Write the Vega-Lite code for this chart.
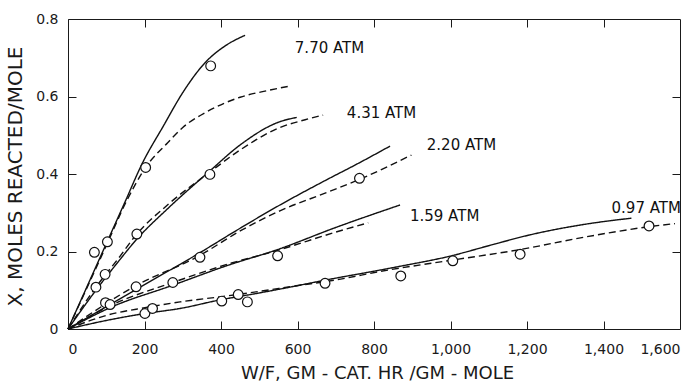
{
  "$schema": "https://vega.github.io/schema/vega-lite/v6.json",
  "width": 612,
  "height": 310,
  "autosize": {"type": "none"},
  "padding": {"left": 68, "top": 19, "right": 14, "bottom": 55},
  "background": "white",
  "config": {
    "view": {"stroke": "#1a1a1a", "strokeWidth": 1},
    "font": "DejaVu Sans",
    "axis": {
      "domain": false,
      "grid": false,
      "tickColor": "#1a1a1a",
      "tickWidth": 1,
      "labelColor": "#1a1a1a",
      "titleColor": "#1a1a1a",
      "labelFont": "DejaVu Sans",
      "titleFont": "DejaVu Sans",
      "labelFontSize": 14,
      "titleFontWeight": "normal"
    }
  },
  "datasets": {
    "curves": [
      {"p": "7.70", "style": "solid", "w": 0, "X": 0},
      {"p": "7.70", "style": "solid", "w": 50, "X": 0.11},
      {"p": "7.70", "style": "solid", "w": 100, "X": 0.22},
      {"p": "7.70", "style": "solid", "w": 150, "X": 0.33},
      {"p": "7.70", "style": "solid", "w": 193, "X": 0.425},
      {"p": "7.70", "style": "solid", "w": 250, "X": 0.525},
      {"p": "7.70", "style": "solid", "w": 300, "X": 0.61},
      {"p": "7.70", "style": "solid", "w": 361, "X": 0.69},
      {"p": "7.70", "style": "solid", "w": 410, "X": 0.73},
      {"p": "7.70", "style": "solid", "w": 463, "X": 0.758},
      {"p": "7.70", "style": "dashed", "w": 0, "X": 0},
      {"p": "7.70", "style": "dashed", "w": 100, "X": 0.215},
      {"p": "7.70", "style": "dashed", "w": 153, "X": 0.33},
      {"p": "7.70", "style": "dashed", "w": 205, "X": 0.42},
      {"p": "7.70", "style": "dashed", "w": 260, "X": 0.48},
      {"p": "7.70", "style": "dashed", "w": 300, "X": 0.52},
      {"p": "7.70", "style": "dashed", "w": 362, "X": 0.56},
      {"p": "7.70", "style": "dashed", "w": 450, "X": 0.598},
      {"p": "7.70", "style": "dashed", "w": 520, "X": 0.615},
      {"p": "7.70", "style": "dashed", "w": 580, "X": 0.627},
      {"p": "4.31", "style": "solid", "w": 0, "X": 0},
      {"p": "4.31", "style": "solid", "w": 73, "X": 0.1},
      {"p": "4.31", "style": "solid", "w": 130, "X": 0.172},
      {"p": "4.31", "style": "solid", "w": 180, "X": 0.232},
      {"p": "4.31", "style": "solid", "w": 260, "X": 0.31},
      {"p": "4.31", "style": "solid", "w": 371, "X": 0.408},
      {"p": "4.31", "style": "solid", "w": 450, "X": 0.475},
      {"p": "4.31", "style": "solid", "w": 554, "X": 0.535},
      {"p": "4.31", "style": "solid", "w": 598, "X": 0.546},
      {"p": "4.31", "style": "dashed", "w": 0, "X": 0},
      {"p": "4.31", "style": "dashed", "w": 73, "X": 0.108},
      {"p": "4.31", "style": "dashed", "w": 130, "X": 0.18},
      {"p": "4.31", "style": "dashed", "w": 180, "X": 0.245},
      {"p": "4.31", "style": "dashed", "w": 260, "X": 0.32},
      {"p": "4.31", "style": "dashed", "w": 371, "X": 0.405},
      {"p": "4.31", "style": "dashed", "w": 450, "X": 0.462},
      {"p": "4.31", "style": "dashed", "w": 554, "X": 0.52},
      {"p": "4.31", "style": "dashed", "w": 620, "X": 0.54},
      {"p": "4.31", "style": "dashed", "w": 667, "X": 0.552},
      {"p": "2.20", "style": "solid", "w": 0, "X": 0},
      {"p": "2.20", "style": "solid", "w": 178, "X": 0.102},
      {"p": "2.20", "style": "solid", "w": 345, "X": 0.197},
      {"p": "2.20", "style": "solid", "w": 450, "X": 0.26},
      {"p": "2.20", "style": "solid", "w": 554, "X": 0.32},
      {"p": "2.20", "style": "solid", "w": 676, "X": 0.385},
      {"p": "2.20", "style": "solid", "w": 760, "X": 0.428},
      {"p": "2.20", "style": "solid", "w": 842, "X": 0.472},
      {"p": "2.20", "style": "dashed", "w": 0, "X": 0},
      {"p": "2.20", "style": "dashed", "w": 178, "X": 0.112},
      {"p": "2.20", "style": "dashed", "w": 345, "X": 0.19},
      {"p": "2.20", "style": "dashed", "w": 450, "X": 0.253},
      {"p": "2.20", "style": "dashed", "w": 554, "X": 0.305},
      {"p": "2.20", "style": "dashed", "w": 676, "X": 0.352},
      {"p": "2.20", "style": "dashed", "w": 762, "X": 0.386},
      {"p": "2.20", "style": "dashed", "w": 898, "X": 0.449},
      {"p": "1.59", "style": "solid", "w": 0, "X": 0},
      {"p": "1.59", "style": "solid", "w": 110, "X": 0.055},
      {"p": "1.59", "style": "solid", "w": 274, "X": 0.113},
      {"p": "1.59", "style": "solid", "w": 420, "X": 0.165},
      {"p": "1.59", "style": "solid", "w": 548, "X": 0.205},
      {"p": "1.59", "style": "solid", "w": 700, "X": 0.262},
      {"p": "1.59", "style": "solid", "w": 868, "X": 0.32},
      {"p": "1.59", "style": "dashed", "w": 0, "X": 0},
      {"p": "1.59", "style": "dashed", "w": 110, "X": 0.06},
      {"p": "1.59", "style": "dashed", "w": 274, "X": 0.12},
      {"p": "1.59", "style": "dashed", "w": 420, "X": 0.168},
      {"p": "1.59", "style": "dashed", "w": 548, "X": 0.203},
      {"p": "1.59", "style": "dashed", "w": 700, "X": 0.25},
      {"p": "1.59", "style": "dashed", "w": 785, "X": 0.274},
      {"p": "0.97", "style": "solid", "w": 0, "X": 0},
      {"p": "0.97", "style": "solid", "w": 100, "X": 0.022},
      {"p": "0.97", "style": "solid", "w": 201, "X": 0.04},
      {"p": "0.97", "style": "solid", "w": 293, "X": 0.053},
      {"p": "0.97", "style": "solid", "w": 397, "X": 0.075},
      {"p": "0.97", "style": "solid", "w": 500, "X": 0.093},
      {"p": "0.97", "style": "solid", "w": 580, "X": 0.108},
      {"p": "0.97", "style": "solid", "w": 672, "X": 0.126},
      {"p": "0.97", "style": "solid", "w": 842, "X": 0.157},
      {"p": "0.97", "style": "solid", "w": 1007, "X": 0.19},
      {"p": "0.97", "style": "solid", "w": 1100, "X": 0.215},
      {"p": "0.97", "style": "solid", "w": 1208, "X": 0.243},
      {"p": "0.97", "style": "solid", "w": 1350, "X": 0.27},
      {"p": "0.97", "style": "solid", "w": 1473, "X": 0.286},
      {"p": "0.97", "style": "dashed", "w": 0, "X": 0},
      {"p": "0.97", "style": "dashed", "w": 100, "X": 0.035},
      {"p": "0.97", "style": "dashed", "w": 201, "X": 0.055},
      {"p": "0.97", "style": "dashed", "w": 293, "X": 0.07},
      {"p": "0.97", "style": "dashed", "w": 397, "X": 0.083},
      {"p": "0.97", "style": "dashed", "w": 500, "X": 0.097},
      {"p": "0.97", "style": "dashed", "w": 606, "X": 0.113},
      {"p": "0.97", "style": "dashed", "w": 672, "X": 0.122},
      {"p": "0.97", "style": "dashed", "w": 842, "X": 0.153},
      {"p": "0.97", "style": "dashed", "w": 1006, "X": 0.178},
      {"p": "0.97", "style": "dashed", "w": 1182, "X": 0.205},
      {"p": "0.97", "style": "dashed", "w": 1350, "X": 0.237},
      {"p": "0.97", "style": "dashed", "w": 1519, "X": 0.264},
      {"p": "0.97", "style": "dashed", "w": 1587, "X": 0.272}
    ],
    "runs": [
      {"p": "7.70", "w": 69, "X": 0.198},
      {"p": "7.70", "w": 103, "X": 0.225},
      {"p": "7.70", "w": 203, "X": 0.417},
      {"p": "7.70", "w": 373, "X": 0.679},
      {"p": "4.31", "w": 73, "X": 0.108},
      {"p": "4.31", "w": 97, "X": 0.141},
      {"p": "4.31", "w": 180, "X": 0.245},
      {"p": "4.31", "w": 371, "X": 0.399},
      {"p": "2.20", "w": 98, "X": 0.068},
      {"p": "2.20", "w": 178, "X": 0.109},
      {"p": "2.20", "w": 345, "X": 0.185},
      {"p": "2.20", "w": 762, "X": 0.389},
      {"p": "1.59", "w": 110, "X": 0.063},
      {"p": "1.59", "w": 274, "X": 0.12},
      {"p": "1.59", "w": 548, "X": 0.189},
      {"p": "0.97", "w": 201, "X": 0.04},
      {"p": "0.97", "w": 221, "X": 0.053},
      {"p": "0.97", "w": 402, "X": 0.072},
      {"p": "0.97", "w": 445, "X": 0.089},
      {"p": "0.97", "w": 469, "X": 0.07},
      {"p": "0.97", "w": 672, "X": 0.118},
      {"p": "0.97", "w": 870, "X": 0.137},
      {"p": "0.97", "w": 1006, "X": 0.176},
      {"p": "0.97", "w": 1182, "X": 0.193},
      {"p": "0.97", "w": 1519, "X": 0.266}
    ],
    "labels": [
      {"text": "7.70 ATM", "w": 593, "X": 0.725},
      {"text": "4.31 ATM", "w": 729, "X": 0.557},
      {"text": "2.20 ATM", "w": 938, "X": 0.475},
      {"text": "1.59 ATM", "w": 894, "X": 0.292},
      {"text": "0.97 ATM", "w": 1421, "X": 0.313}
    ]
  },
  "layer": [
    {
      "data": {"name": "curves"},
      "mark": {"type": "line", "interpolate": "monotone", "strokeWidth": 1.4, "color": "#111111"},
      "encoding": {
        "x": {
          "field": "w", "type": "quantitative",
          "scale": {"domain": [0, 1600], "nice": false, "zero": true},
          "axis": {
            "orient": "bottom",
            "values": [0, 200, 400, 600, 800, 1000, 1200, 1400, 1600],
            "tickSize": -8,
            "labelPadding": 21,
            "labelFontSize": 14,
            "title": "W/F, GM - CAT. HR /GM - MOLE",
            "titleFontSize": 18,
            "titleX": 309,
            "titleY": 49,
            "titleAnchor": null,
            "titleAlign": "center",
            "titleBaseline": "alphabetic"
          }
        },
        "y": {
          "field": "X", "type": "quantitative",
          "scale": {"domain": [0, 0.8], "nice": false},
          "axis": {
            "orient": "left",
            "values": [0, 0.2, 0.4, 0.6, 0.8],
            "labelExpr": "datum.value == 0 ? '0' : format(datum.value, '.1f')",
            "tickSize": -8,
            "labelPadding": 18,
            "title": "X, MOLES REACTED/MOLE",
            "titleFontSize": 20,
            "titleAngle": -90,
            "titleX": -53,
            "titleY": 157,
            "titleAlign": "center",
            "titleBaseline": "middle"
          }
        },
        "detail": {"field": "p"},
        "strokeDash": {
          "field": "style", "type": "nominal",
          "scale": {"domain": ["solid", "dashed"], "range": [[1, 0], [7, 4]]},
          "legend": null
        },
        "order": {"field": "w", "type": "quantitative"}
      }
    },
    {
      "data": {"name": "runs"},
      "mark": {"type": "point", "shape": "circle", "size": 95, "filled": true, "fill": "white", "stroke": "#111111", "strokeWidth": 1.2, "opacity": 1},
      "encoding": {
        "x": {
          "field": "w", "type": "quantitative",
          "axis": {"orient": "top", "values": [200, 400, 600, 800, 1000, 1200, 1400], "labels": false, "title": null, "tickSize": -8}
        },
        "y": {
          "field": "X", "type": "quantitative",
          "axis": {"orient": "right", "values": [0.2, 0.4, 0.6], "labels": false, "title": null, "tickSize": -8}
        }
      }
    },
    {
      "data": {"name": "labels"},
      "mark": {"type": "text", "align": "left", "baseline": "middle", "font": "DejaVu Sans", "fontSize": 15, "color": "#111111"},
      "encoding": {
        "x": {"field": "w", "type": "quantitative", "axis": null},
        "y": {"field": "X", "type": "quantitative", "axis": null},
        "text": {"field": "text"}
      }
    }
  ],
  "resolve": {"axis": {"x": "independent", "y": "independent"}}
}
